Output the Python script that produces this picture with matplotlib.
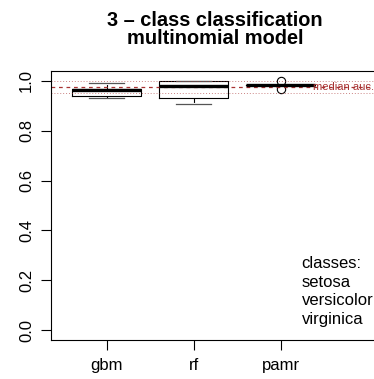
import matplotlib
matplotlib.use("Agg")
import matplotlib.pyplot as plt

plt.rcParams['font.family'] = ['Liberation Sans', 'DejaVu Sans']

# box statistics
methods = ['gbm', 'rf', 'pamr']
whislo = [0.933, 0.906, 0.982]
q1 = [0.938, 0.931, 0.982]
med = [0.962, 0.981, 0.983]
q3 = [0.966, 1.000, 0.984]
whishi = [0.993, 1.000, 0.984]
fliers = [[], [], [1.0, 0.967]]

median_auc = 0.975
band = [0.9985, 0.950]
classes = ['setosa', 'versicolor', 'virginica']

red = '#a83232'

fig = plt.figure(figsize=(3.74, 3.79), dpi=100)
# plot region runs past the right edge of the picture
ax = fig.add_axes([51/374, 39/379, 328/374, 269/379])
ax.patch.set_visible(False)

stats = []
for i in range(len(methods)):
    stats.append(dict(label=methods[i], whislo=whislo[i], q1=q1[i], med=med[i],
                      q3=q3[i], whishi=whishi[i], fliers=fliers[i]))

ax.bxp(stats, positions=[1, 2, 3], widths=0.8,
       boxprops=dict(color='black', lw=0.8),
       medianprops=dict(color='black', lw=2.4, solid_capstyle='butt'),
       whiskerprops=dict(color='black', lw=0.8, linestyle=(0, (4, 3))),
       capprops=dict(color='#555555', lw=0.9),
       capwidths=0.4,
       flierprops=dict(marker='o', markerfacecolor='none', markeredgecolor='black',
                       markersize=6, markeredgewidth=0.8))

ax.axhline(median_auc, color=red, lw=0.9, linestyle=(0, (3, 3)))
for b in band:
    ax.axhline(b, color=red, lw=0.7, linestyle=(0, (1, 2)), alpha=0.6)
ax.text(3.37, median_auc, 'median auc.', color=red, fontsize=8, ha='left', va='center')

ax.text(3.24, 0.155, 'classes:\n' + '\n'.join(classes), fontsize=12,
        ha='left', va='center', linespacing=1.32)

ax.set_xlim(0.36, 0.36 + 328 / 87)
ax.set_ylim(-0.04, 1.04)
ax.set_xticks([1, 2, 3])
ax.set_xticklabels(methods, fontsize=12)
ax.set_yticks([0, 0.2, 0.4, 0.6, 0.8, 1.0])
ax.set_yticklabels(['0.0', '0.2', '0.4', '0.6', '0.8', '1.0'], fontsize=12,
                   rotation=90, va='center')
ax.tick_params(length=7.2, width=0.8, pad=5, right=False)
ax.tick_params(axis='x', pad=6)
for s in ax.spines.values():
    s.set_linewidth(0.8)
ax.spines['right'].set_color('none')

fig.text(215/374, 1 - 21/379, '3 \u2013 class classification', fontsize=14.4,
         fontweight='bold', ha='center', va='center')
fig.text(215/374, 1 - 39/379, 'multinomial model', fontsize=14.4,
         fontweight='bold', ha='center', va='center')

fig.savefig('out.png', dpi=100, facecolor='white', edgecolor='none')
